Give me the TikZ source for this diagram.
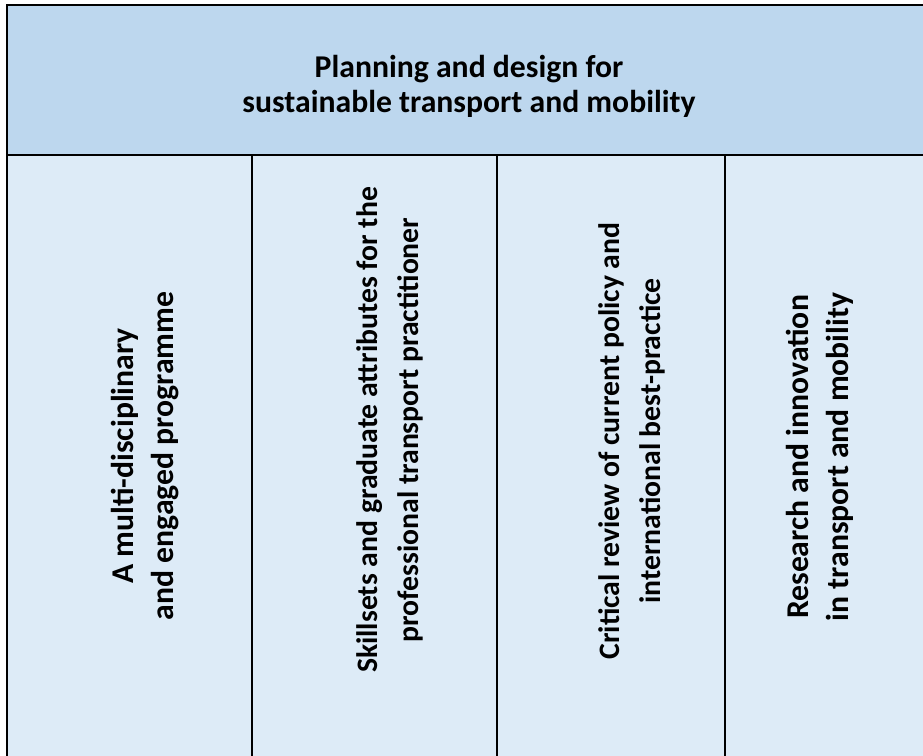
\documentclass[tikz,border=0pt]{standalone}
\usepackage{fontspec}
\setmainfont{Carlito}
\usepackage{tikz}
\definecolor{headblue}{HTML}{BDD7EE}
\definecolor{bodyblue}{HTML}{DDEBF7}

\begin{document}
\begin{tikzpicture}[x = 1pt, y = -1pt,
  rule/.style = {line width = 2.5pt, black},
  bigtext/.style = {align = center, inner sep = 0pt, font = \bfseries\fontsize{31.7}{40}\selectfont},
  coltext/.style = {bigtext, rotate = 90},
  smallcoltext/.style = {coltext, font = \bfseries\fontsize{29.7}{41}\selectfont}]

\useasboundingbox (0,0) rectangle (923,755);
\clip (0,0) rectangle (923,755);

\fill[bodyblue] (7,155) rectangle (940,770);
\fill[headblue] (7,5) rectangle (940,155);

\draw[rule] (7,770)--(7,5)--(940,5);
\draw[rule] (7,155)--(940,155);
\foreach \x in {252, 497, 725}
  \draw[rule] (\x,155)--(\x,770);

\node[bigtext, font = \bfseries\fontsize{31.7}{35}\selectfont] (title) at (469,86) {Planning and design for\\sustainable transport and mobility};

\node[coltext] (multi) at (145,456) {A multi-disciplinary\\and engaged programme};
\node[smallcoltext] (skills) at (390,430) {Skillsets and graduate attributes for the\\professional transport practitioner};
\node[smallcoltext] (review) at (632,441) {Critical review of current policy and\\international best-practice};
\node[coltext] (research) at (820,457) {Research and innovation\\in transport and mobility};
\end{tikzpicture}
\end{document}
